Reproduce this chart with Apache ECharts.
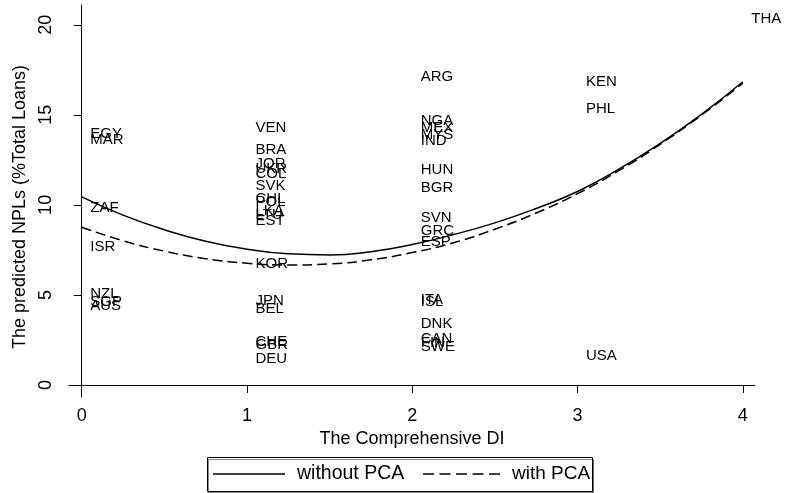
<!DOCTYPE html>
<html>
<head>
<meta charset="utf-8">
<script src="https://cdn.jsdelivr.net/npm/echarts@6/dist/echarts.min.js"></script>
<style>
html,body{margin:0;padding:0;background:#fff;}
#chart{width:786px;height:493px;}
</style>
</head>
<body>
<div id="chart"></div>
<script>
// Country labels: code, Comprehensive DI, NPL
const countryCodes = ["EGY","MAR","ZAF","ISR","NZL","SGP","AUS",
  "VEN","BRA","JOR","UKR","COL","SVK","CHL","POL","LKA","LTU","EST","KOR","JPN","BEL","CHE","GBR","DEU",
  "ARG","NGA","MEX","MYS","IND","HUN","BGR","SVN","GRC","ESP","ITA","ISL","DNK","CAN","FIN","SWE",
  "KEN","PHL","USA","THA"];
const countryDI = [0,0,0,0,0,0,0,
  1,1,1,1,1,1,1,1,1,1,1,1,1,1,1,1,1,
  2,2,2,2,2,2,2,2,2,2,2,2,2,2,2,2,
  3,3,3,4];
const countryNPL = [13.95,13.6,9.85,7.65,5.05,4.6,4.4,
  14.3,13.05,12.25,12.0,11.7,11.05,10.35,10.15,9.65,9.45,9.1,6.75,4.65,4.2,2.4,2.25,1.45,
  17.1,14.65,14.3,13.9,13.55,11.95,10.95,9.3,8.55,7.95,4.7,4.6,3.4,2.55,2.35,2.1,
  16.85,15.35,1.62,20.35];

// Fitted curves
const curveX = [0,0.25,0.5,0.75,1,1.25,1.5,1.75,2,2.25,2.5,2.75,3,3.25,3.5,3.75,4];
const withoutPCA = [10.44,9.43,8.62,7.98,7.54,7.28,7.22,7.4,7.8,8.35,9.0,9.8,10.74,11.98,13.42,15.03,16.84];
const withPCA = [8.76,8.01,7.43,7.01,6.76,6.66,6.72,6.95,7.35,7.9,8.65,9.55,10.62,11.9,13.36,14.98,16.75];

const xTicks = [0,1,2,3,4];
const yTicks = [0,5,10,15,20];
const seriesNames = ["without PCA","with PCA"];

const font = "Liberation Sans, Arial, Helvetica, sans-serif";
const chart = echarts.init(document.getElementById('chart'), null, {renderer:'canvas'});

const option = {
  animation: false,
  backgroundColor: '#fff',
  textStyle: {fontFamily: font, color: '#000'},
  grid: {left: 69, right: 31, top: 5, bottom: 96, containLabel: false},
  xAxis: {
    type: 'value', min: -0.077, max: 4.074,
    name: 'The Comprehensive DI', nameLocation: 'middle', nameGap: 30,
    nameTextStyle: {fontSize: 18, color: '#000', fontFamily: font},
    axisLine: {show: true, lineStyle: {color: '#000', width: 1}},
    axisTick: {show: true, inside: false, length: 8, customValues: xTicks, lineStyle: {color: '#000'}},
    axisLabel: {customValues: xTicks, margin: 10, fontSize: 18, color: '#000', fontFamily: font},
    splitLine: {show: false}
  },
  yAxis: {
    type: 'value', min: -0.67, max: 21.1,
    name: 'The predicted NPLs (%Total Loans)', nameLocation: 'middle', nameGap: 32, nameRotate: 90,
    nameTextStyle: {fontSize: 18, color: '#000', fontFamily: font, padding: [0, 12, 0, 0]},
    axisLine: {show: true, lineStyle: {color: '#000', width: 1}},
    axisTick: {show: true, inside: false, length: 8, customValues: yTicks, lineStyle: {color: '#000'}},
    axisLabel: {customValues: yTicks, rotate: 90, margin: 14, fontSize: 18, color: '#000', fontFamily: font},
    splitLine: {show: false}
  },
  graphic: [
    {type: 'rect', left: 207, top: 457, z: 10,
      shape: {width: 385, height: 34},
      style: {fill: '#fff', stroke: '#000', lineWidth: 1,
        shadowColor: 'rgba(0,0,0,0.45)', shadowOffsetX: 1, shadowOffsetY: 2, shadowBlur: 0}},
    {type: 'line', z: 11, shape: {x1: 213, y1: 474, x2: 285, y2: 474},
      style: {stroke: '#000', lineWidth: 1.5}},
    {type: 'text', z: 11, x: 297, y: 474,
      style: {text: seriesNames[0], fontSize: 19.5, fontFamily: font, fill: '#000', verticalAlign: 'middle'}},
    {type: 'line', z: 11, shape: {x1: 423, y1: 474, x2: 500, y2: 474},
      style: {stroke: '#000', lineWidth: 1.5, lineDash: [11, 5.5]}},
    {type: 'text', z: 11, x: 512, y: 474,
      style: {text: seriesNames[1], fontSize: 19, fontFamily: font, fill: '#000', verticalAlign: 'middle'}}
  ],
  series: [
    {
      name: 'countries', type: 'scatter',
      data: countryCodes.map((c, i) => [countryDI[i], countryNPL[i], c]),
      symbol: 'circle', symbolSize: 1,
      itemStyle: {color: 'rgba(0,0,0,0)'},
      clip: false,
      label: {show: true, position: 'right', distance: 8, formatter: p => p.value[2],
        fontSize: 15, color: '#000', opacity: 1, fontFamily: font},
      emphasis: {disabled: true},
      silent: true, z: 3
    },
    {
      name: seriesNames[0], type: 'line', symbol: 'none', smooth: true,
      data: curveX.map((x, i) => [x, withoutPCA[i]]),
      lineStyle: {color: '#000', width: 1.5, type: 'solid'},
      itemStyle: {color: '#000'}, z: 4
    },
    {
      name: seriesNames[1], type: 'line', symbol: 'none', smooth: true,
      data: curveX.map((x, i) => [x, withPCA[i]]),
      lineStyle: {color: '#000', width: 1.5, type: [10, 5]},
      itemStyle: {color: '#000'}, z: 4
    }
  ]
};
chart.setOption(option);
</script>
</body>
</html>
